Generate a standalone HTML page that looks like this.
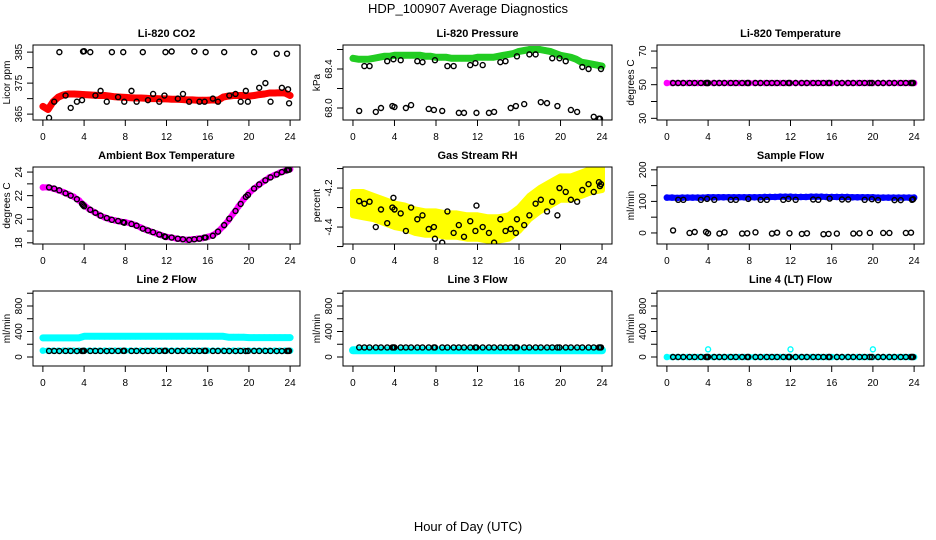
<!DOCTYPE html>
<html><head><meta charset="utf-8">
<style>
html,body{margin:0;padding:0;background:#fff;}
svg{display:block;font-family:"Liberation Sans",Arial,sans-serif;}
</style></head>
<body>
<svg id="chart" width="936" height="540" viewBox="0 0 936 540" xmlns="http://www.w3.org/2000/svg">
<rect width="936" height="540" fill="#fff"/>
<text x="468" y="13" text-anchor="middle" font-size="13">HDP_100907  Average Diagnostics</text>
<text x="468" y="531" text-anchor="middle" font-size="13">Hour of Day (UTC)</text>
</svg>
<script>
// ---- data ----
const pointHours = [0.6,1.1,1.6,2.2,2.7,3.3,3.8,3.9,4.0,4.6,5.1,5.6,6.2,6.7,7.3,7.8,7.9,8.6,9.1,9.7,10.2,10.7,11.3,11.8,11.9,12.5,13.1,13.6,14.2,14.7,15.2,15.7,15.8,16.5,17.0,17.6,18.1,18.7,19.2,19.7,19.9,20.5,21.0,21.6,22.1,22.7,23.2,23.7,23.8,23.9];
const bandHours = [0,0.5,1,1.5,2,2.5,3,3.5,4,4.5,5,5.5,6,6.5,7,7.5,8,8.5,9,9.5,10,10.5,11,11.5,12,12.5,13,13.5,14,14.5,15,15.5,16,16.5,17,17.5,18,18.5,19,19.5,20,20.5,21,21.5,22,22.5,23,23.5,24];
const xTicks = [0,4,8,12,16,20,24];

const co2Points = [363.8,369,385,371,367,369,369.5,385.2,385.3,385,371,372.5,369,385,370.5,385,369,372.5,369,385,369.5,371.5,369,371,385,385.2,370,371.5,369,385.2,369,369,385,370,369,385,371,371.5,369,372.5,369,385,373.5,375,369,384.5,373.5,384.5,373,368.5];
const co2Band = [367.5,366.5,369,370.5,371.2,371.5,371.5,371.4,371.3,371.2,371.1,371,371,370.8,370.6,370.5,370.4,370.3,370.2,370.2,370.1,370,370,369.9,369.9,369.8,369.8,369.7,369.6,369.6,369.5,369.5,369.5,369.6,369.5,370.5,370.8,371,371,371,370.8,371,371.3,371.5,371.8,371.8,371.9,371.8,371];

const pressPoints = [67.97,68.43,68.43,67.96,68.0,68.48,68.02,68.50,68.01,68.49,68.0,68.03,68.48,68.47,67.99,67.98,68.49,67.97,68.43,68.43,67.95,67.95,68.44,68.46,67.95,68.44,67.95,67.96,68.47,68.48,68.0,68.02,68.53,68.04,68.55,68.55,68.06,68.05,68.51,68.02,68.51,68.48,67.98,67.96,68.42,68.40,67.91,67.89,67.89,68.40];
const pressBand = [68.51,68.50,68.50,68.50,68.51,68.52,68.53,68.53,68.54,68.54,68.54,68.54,68.54,68.54,68.53,68.53,68.52,68.52,68.52,68.51,68.51,68.51,68.51,68.51,68.52,68.52,68.52,68.52,68.53,68.54,68.55,68.56,68.58,68.59,68.60,68.60,68.60,68.59,68.58,68.56,68.54,68.53,68.52,68.50,68.47,68.46,68.45,68.44,68.43];

const liTempPoints = [51,51,51,51,51,51,51,51,51,51,51,51,51,51,51,51,51,51,51,51,51,51,51,51,51,51,51,51,51,51,51,51,51,51,51,51,51,51,51,51,51,51,51,51,51,51,51,51,51,51];
const liTempBand = [51,51,51,51,51,51,51,51,51,51,51,51,51,51,51,51,51,51,51,51,51,51,51,51,51,51,51,51,51,51,51,51,51,51,51,51,51,51,51,51,51,51,51,51,51,51,51,51,51];

const ambPoints = [22.7,22.6,22.45,22.2,22.0,21.7,21.3,21.2,21.1,20.8,20.55,20.3,20.1,19.95,19.85,19.75,19.7,19.6,19.45,19.2,19.05,18.9,18.7,18.55,18.5,18.45,18.35,18.3,18.25,18.3,18.35,18.45,18.45,18.6,18.95,19.5,20.05,20.7,21.3,21.9,22.05,22.6,22.95,23.3,23.55,23.8,24.0,24.15,24.2,24.2];
const ambBand = [22.7,22.7,22.6,22.45,22.3,22.1,21.9,21.6,21.2,20.85,20.6,20.35,20.15,20.0,19.9,19.8,19.75,19.65,19.5,19.3,19.1,18.95,18.8,18.65,18.5,18.45,18.35,18.3,18.25,18.3,18.35,18.4,18.5,18.65,18.95,19.4,19.9,20.5,21.1,21.7,22.2,22.6,22.95,23.25,23.55,23.75,23.95,24.1,24.25];

const rhPoints = [-4.267,-4.28,-4.27,-4.40,-4.31,-4.38,-4.30,-4.25,-4.31,-4.33,-4.42,-4.30,-4.36,-4.34,-4.41,-4.40,-4.46,-4.48,-4.32,-4.43,-4.39,-4.45,-4.37,-4.42,-4.29,-4.40,-4.43,-4.48,-4.36,-4.42,-4.41,-4.43,-4.36,-4.39,-4.34,-4.28,-4.26,-4.32,-4.27,-4.34,-4.20,-4.22,-4.26,-4.27,-4.21,-4.18,-4.22,-4.17,-4.19,-4.18];
const rhHours = [0,1,2,3,4,5,6,7,8,9,10,11,12,13,14,15,16,17,18,19,20,21,22,23,24];
const rhHigh = [-4.22,-4.22,-4.24,-4.26,-4.28,-4.29,-4.31,-4.32,-4.32,-4.33,-4.33,-4.34,-4.34,-4.35,-4.35,-4.34,-4.30,-4.24,-4.20,-4.17,-4.14,-4.14,-4.12,-4.10,-4.09];
const rhLow = [-4.34,-4.35,-4.36,-4.38,-4.40,-4.41,-4.43,-4.44,-4.44,-4.45,-4.45,-4.46,-4.46,-4.47,-4.47,-4.46,-4.42,-4.36,-4.32,-4.29,-4.26,-4.26,-4.24,-4.22,-4.21];

const flowPoints = [8,105,105,0,3,105,3,108,-1,105,-2,2,105,105,-2,-1,108,2,105,105,-2,1,105,108,-1,105,-3,-1,106,105,-4,-3,109,-2,106,106,-2,-1,105,0,107,104,0,0,104,104,0,1,105,107];
const flowBand = [112,112,111,112,112,112,112,112,113,113,113,113,113,113,113,113,113,113,113,114,114,114,115,115,115,114,114,114,115,115,115,114,114,114,114,114,113,113,113,113,113,112,112,112,112,112,112,112,112];

const line2Points = [95,95,94,95,95,94,95,95,96,95,95,95,94,95,95,96,96,95,95,94,95,95,95,96,96,95,95,95,95,95,95,96,96,95,95,95,94,94,95,94,95,95,95,95,95,94,94,95,95,96];
const line2Upper = [300,300,300,300,300,300,300,300,325,325,325,325,325,325,325,325,325,325,325,325,325,325,325,325,325,325,325,325,325,325,325,325,325,325,325,325,310,310,310,310,305,305,305,305,305,305,305,305,305];
const line2Lower = [100,100,100,100,100,100,100,100,100,100,100,100,100,100,100,100,100,100,100,100,100,100,100,100,100,100,100,100,100,100,100,100,100,100,100,100,100,100,100,100,100,100,100,100,100,100,100,100,100];

const line3Points = [150,150,150,150,150,150,150,150,150,150,150,150,150,150,150,150,150,150,150,150,150,150,150,150,150,150,150,150,150,150,150,150,150,150,150,150,150,150,150,150,150,150,150,150,150,150,150,150,150,150];
const line3Band = [105,105,105,105,105,105,105,105,105,105,105,105,105,105,105,105,105,105,105,105,105,105,105,105,105,105,105,105,105,105,105,105,105,105,105,105,105,105,105,105,105,105,105,105,105,105,105,105,105];

const line4Points = [0,0,0,0,0,0,0,0,0,0,0,0,0,0,0,0,0,0,0,0,0,0,0,0,0,0,0,0,0,0,0,0,0,0,0,0,0,0,0,0,0,0,0,0,0,0,0,0,0,0];
const line4Band = [0,0,0,0,0,0,0,0,0,0,0,0,0,0,0,0,0,0,0,0,0,0,0,0,0,0,0,0,0,0,0,0,0,0,0,0,0,0,0,0,0,0,0,0,0,0,0,0,0];
const line4SpikeHours = [4,12,20];
const line4Spikes = [120,120,120];

// ---- drawing ----
const NS = "http://www.w3.org/2000/svg";
const svg = document.getElementById('chart');
function mk(tag, attrs, parent){
  const e = document.createElementNS(NS, tag);
  for (const k in attrs) e.setAttribute(k, attrs[k]);
  (parent||svg).appendChild(e);
  return e;
}
const cols = [[33,300],[343,612],[657,924]];
const rows = [[45,120],[167,244],[291,366]];

function panel(o){
  const [L,R] = cols[o.c], [T,B] = rows[o.r];
  const g = mk('g', {});
  
  
  const pad = 24*0.04;
  const xs = h => L + (h + pad) / (24 + 2*pad) * (R - L);
  const ys = v => T + (o.ymax - v) / (o.ymax - o.ymin) * (B - T);
  // title
  const t = mk('text', {x:(L+R)/2, y:T-8, 'text-anchor':'middle', 'font-size':'11', 'font-weight':'bold'}, g);
  t.textContent = o.title;
  
  
  // series in clip
  const cid = 'clip-' + o.name;
  const cp = mk('clipPath', {id:cid}, g);
  mk('rect', {x:L, y:T, width:R-L, height:B-T}, cp);
  const sg = mk('g', {'clip-path':'url(#'+cid+')'}, g);
  (o.bands||[]).forEach(b => {
    const pts = b.x.map((h,i) => xs(h).toFixed(1)+','+ys(b.y[i]).toFixed(1)).join(' ');
    const pl = mk('polyline', {points:pts, fill:'none', stroke:b.color, 'stroke-width':b.w, 'stroke-linejoin':'round', 'stroke-linecap':'round'}, sg);
    
    
    b.x.forEach((h,i) => {
      const c = mk('circle', {cx:xs(h), cy:ys(b.y[i]), r:2.6, fill:'none', stroke:b.color, 'stroke-width':1.4}, sg);
      
      
    });
  });
  (o.areas||[]).forEach(a => {
    const up = a.x.map((h,i) => xs(h).toFixed(1)+','+ys(a.hi[i]).toFixed(1));
    const dn = a.x.map((h,i) => xs(h).toFixed(1)+','+ys(a.lo[i]).toFixed(1)).reverse();
    const pg = mk('polygon', {points:up.concat(dn).join(' '), fill:a.color, stroke:a.color, 'stroke-width':6, 'stroke-linejoin':'round'}, sg);
    
    
  });
  (o.points||[]).forEach(p => {
    p.x.forEach((h,i) => {
      const c = mk('circle', {cx:xs(h), cy:ys(p.y[i]), r:2.5, fill:'none', stroke:p.color, 'stroke-width':1.4}, sg);
      
      
    });
  });
  // box
  const bx = mk('rect', {x:L, y:T, width:R-L, height:B-T, fill:'none', stroke:'#000', 'stroke-width':1}, g);
  
  
  // x axis
  mk('line', {x1:xs(0), x2:xs(24), y1:B, y2:B, stroke:'#000'}, g);
  xTicks.forEach(h => {
    mk('line', {x1:xs(h), x2:xs(h), y1:B, y2:B+6, stroke:'#000'}, g);
    const tx = mk('text', {x:xs(h), y:B+20, 'text-anchor':'middle', 'font-size':'10'}, g);
    tx.textContent = h;
    
    
  });
  // y axis
  mk('line', {x1:L, x2:L, y1:ys(o.yticks[0]), y2:ys(o.yticks[o.yticks.length-1]), stroke:'#000'}, g);
  o.yticks.forEach((v,i) => {
    mk('line', {x1:L-6, x2:L, y1:ys(v), y2:ys(v), stroke:'#000'}, g);
    if (o.ylabels[i] !== '') {
      const ty = mk('text', {x:0, y:0, 'text-anchor':'middle', 'font-size':'10', transform:'translate('+(L-11)+','+ys(v)+') rotate(-90)'}, g);
      ty.textContent = o.ylabels[i];
      
      
    }
  });
  const yl = mk('text', {x:0, y:0, 'text-anchor':'middle', 'font-size':'10', transform:'translate('+(L-23)+','+((T+B)/2)+') rotate(-90)'}, g);
  yl.textContent = o.ylab;
  
  
}

panel({name:'co2', title:'Li-820 CO2', c:0, r:0, ymin:363.1, ymax:387.3, ylab:'Licor ppm',
  yticks:[365,370,375,380,385], ylabels:['365','','375','','385'],
  bands:[{name:'co2-average', x:bandHours, y:co2Band, color:'#ff0000', w:7}],
  points:[{name:'co2-sample', x:pointHours, y:co2Points, color:'#000'}]});
panel({name:'pressure', title:'Li-820 Pressure', c:1, r:0, ymin:67.877, ymax:68.646, ylab:'kPa',
  yticks:[68.0,68.2,68.4,68.6], ylabels:['68.0','','68.4',''],
  bands:[{name:'pressure-average', x:bandHours, y:pressBand, color:'#22cc22', w:7}],
  points:[{name:'pressure-sample', x:pointHours, y:pressPoints, color:'#000'}]});
panel({name:'li-temp', title:'Li-820 Temperature', c:2, r:0, ymin:29, ymax:73.6, ylab:'degrees C',
  yticks:[30,40,50,60,70], ylabels:['30','','50','','70'],
  bands:[{name:'li-temp-average', x:bandHours, y:liTempBand, color:'#ff00ff', w:5}],
  points:[{name:'li-temp-sample', x:pointHours, y:liTempPoints, color:'#000'}]});
panel({name:'ambient', title:'Ambient Box Temperature', c:0, r:1, ymin:17.9, ymax:24.43, ylab:'degrees C',
  yticks:[18,19,20,21,22,23,24], ylabels:['18','','20','','22','','24'],
  bands:[{name:'ambient-average', x:bandHours, y:ambBand, color:'#ff00ff', w:6}],
  points:[{name:'ambient-sample', x:pointHours, y:ambPoints, color:'#000'}]});
panel({name:'rh', title:'Gas Stream RH', c:1, r:1, ymin:-4.487, ymax:-4.092, ylab:'percent',
  yticks:[-4.5,-4.4,-4.3,-4.2,-4.1], ylabels:['','-4.4','','-4.2',''],
  areas:[{name:'rh-average-cloud', x:rhHours, hi:rhHigh, lo:rhLow, color:'#ffff00'}],
  points:[{name:'rh-sample', x:pointHours, y:rhPoints, color:'#000'}]});
panel({name:'sample-flow', title:'Sample Flow', c:2, r:1, ymin:-35, ymax:209, ylab:'ml/min',
  yticks:[0,50,100,150,200], ylabels:['0','','100','','200'],
  bands:[{name:'sample-flow-average', x:bandHours, y:flowBand, color:'#0000ff', w:6}],
  points:[{name:'sample-flow-sample', x:pointHours, y:flowPoints, color:'#000'}]});
const flowTicks = [0,200,400,600,800,1000], flowLabels = ['0','','400','','800',''];
panel({name:'line2', title:'Line 2 Flow', c:0, r:2, ymin:-141, ymax:1035, ylab:'ml/min',
  yticks:flowTicks, ylabels:flowLabels,
  bands:[{name:'line2-upper-average', x:bandHours, y:line2Upper, color:'#00ffff', w:7},
         {name:'line2-lower-average', x:bandHours, y:line2Lower, color:'#00ffff', w:5}],
  points:[{name:'line2-sample', x:pointHours, y:line2Points, color:'#000'}]});
panel({name:'line3', title:'Line 3 Flow', c:1, r:2, ymin:-141, ymax:1035, ylab:'ml/min',
  yticks:flowTicks, ylabels:flowLabels,
  bands:[{name:'line3-average', x:bandHours, y:line3Band, color:'#00ffff', w:8}],
  points:[{name:'line3-sample', x:pointHours, y:line3Points, color:'#000'}]});
panel({name:'line4', title:'Line 4 (LT) Flow', c:2, r:2, ymin:-141, ymax:1035, ylab:'ml/min',
  yticks:flowTicks, ylabels:flowLabels,
  bands:[{name:'line4-average', x:bandHours, y:line4Band, color:'#00ffff', w:5}],
  points:[{name:'line4-sample', x:pointHours, y:line4Points, color:'#000'},
          {name:'line4-spike', x:line4SpikeHours, y:line4Spikes, color:'#00ffff'}]});
</script>
</body></html>
